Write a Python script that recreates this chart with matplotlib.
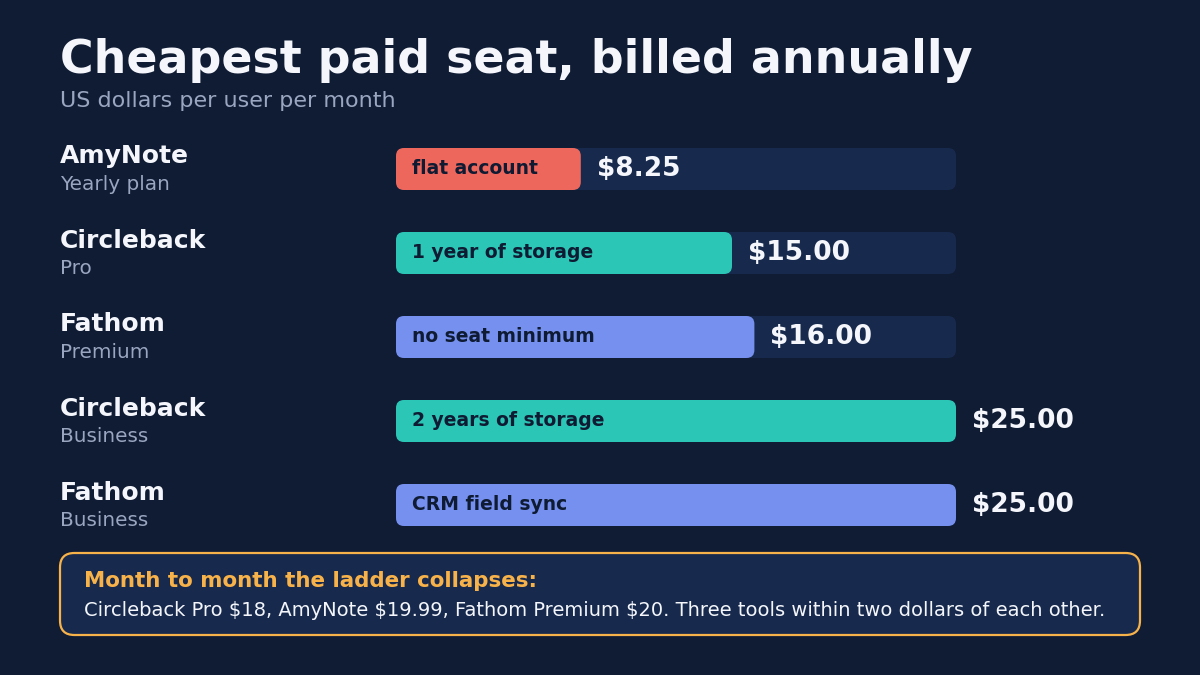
import matplotlib
matplotlib.use("Agg")
import matplotlib.pyplot as plt
from matplotlib.patches import FancyBboxPatch

# chart data
tools = ["AmyNote", "Circleback", "Fathom", "Circleback", "Fathom"]
plans = ["Yearly plan", "Pro", "Premium", "Business", "Business"]
prices = [8.25, 15.00, 16.00, 25.00, 25.00]
notes = ["flat account", "1 year of storage", "no seat minimum",
         "2 years of storage", "CRM field sync"]
colors = ["#ee675c", "#2bc6b5", "#7590ee", "#2bc6b5", "#7590ee"]
scale_max = 25.0

title = "Cheapest paid seat, billed annually"
subtitle = "US dollars per user per month"
callout_head = "Month to month the ladder collapses:"
callout_body = ("Circleback Pro $18, AmyNote $19.99, Fathom Premium $20. "
                "Three tools within two dollars of each other.")

BG = "#101c34"
TRACK = "#172a4d"
WHITE = "#f4f6fb"
GREY = "#9aa6c0"
DARK = "#0f1b33"
ORANGE = "#f8b24a"

W, H = 1200, 675
fig = plt.figure(figsize=(12, 6.75), dpi=100)
fig.patch.set_facecolor(BG)


def fx(px):
    return px / W


def fy(py):
    return 1 - py / H


fig.text(fx(60), fy(73), title, color=WHITE, fontsize=33, fontweight="bold",
         va="baseline", ha="left")
fig.text(fx(60), fy(107), subtitle, color=GREY, fontsize=16,
         va="baseline", ha="left")

# bar area: track from x=396 to 956, rows 84px apart starting at y=127
left, right = 396, 956
top, row_h = 127, 84
n = len(prices)
ax = fig.add_axes([fx(left), fy(top + n * row_h), (right - left) / W, n * row_h / H])
ax.set_xlim(0, scale_max)
ax.set_ylim(n - 0.5, -0.5)
ax.axis("off")
ax.patch.set_alpha(0)

bar_h = 42 / row_h
px_x = scale_max / (right - left)
aspect = (1 / row_h) / px_x
rad = 8 * px_x

for i, (p, c, note) in enumerate(zip(prices, colors, notes)):
    ax.add_patch(FancyBboxPatch((0, i - bar_h / 2), scale_max, bar_h,
                                boxstyle=f"round,pad=0,rounding_size={rad}",
                                mutation_aspect=aspect, fc=TRACK, ec="none"))
    ax.add_patch(FancyBboxPatch((0, i - bar_h / 2), p, bar_h,
                                boxstyle=f"round,pad=0,rounding_size={rad}",
                                mutation_aspect=aspect, fc=c, ec="none"))
    ax.text(16 * px_x, i + 5 / row_h, note, color=DARK, fontsize=13.5,
            fontweight="bold", va="baseline", ha="left")
    ax.text(p + 16 * px_x, i + 7 / row_h, f"${p:.2f}", color=WHITE, fontsize=19,
            fontweight="bold", va="baseline", ha="left")

for i, (t, pl) in enumerate(zip(tools, plans)):
    cy = top + row_h / 2 + i * row_h
    fig.text(fx(60), fy(cy - 5.5), t, color=WHITE, fontsize=18,
             fontweight="bold", va="baseline", ha="left")
    fig.text(fx(60), fy(cy + 21), pl, color=GREY, fontsize=14.4,
             va="baseline", ha="left")

# callout box
box = FancyBboxPatch((fx(60), fy(635)), fx(1080), (635 - 553) / H,
                     boxstyle="round,pad=0,rounding_size=0.012",
                     mutation_aspect=W / H,
                     transform=fig.transFigure, fc=TRACK, ec=ORANGE, lw=1.6)
fig.patches.append(box)
fig.text(fx(84), fy(587), callout_head, color=ORANGE, fontsize=15.4,
         fontweight="bold", va="baseline", ha="left")
fig.text(fx(84), fy(616), callout_body, color=WHITE, fontsize=14,
         va="baseline", ha="left")

fig.savefig("out.png", dpi=100, facecolor=BG)
